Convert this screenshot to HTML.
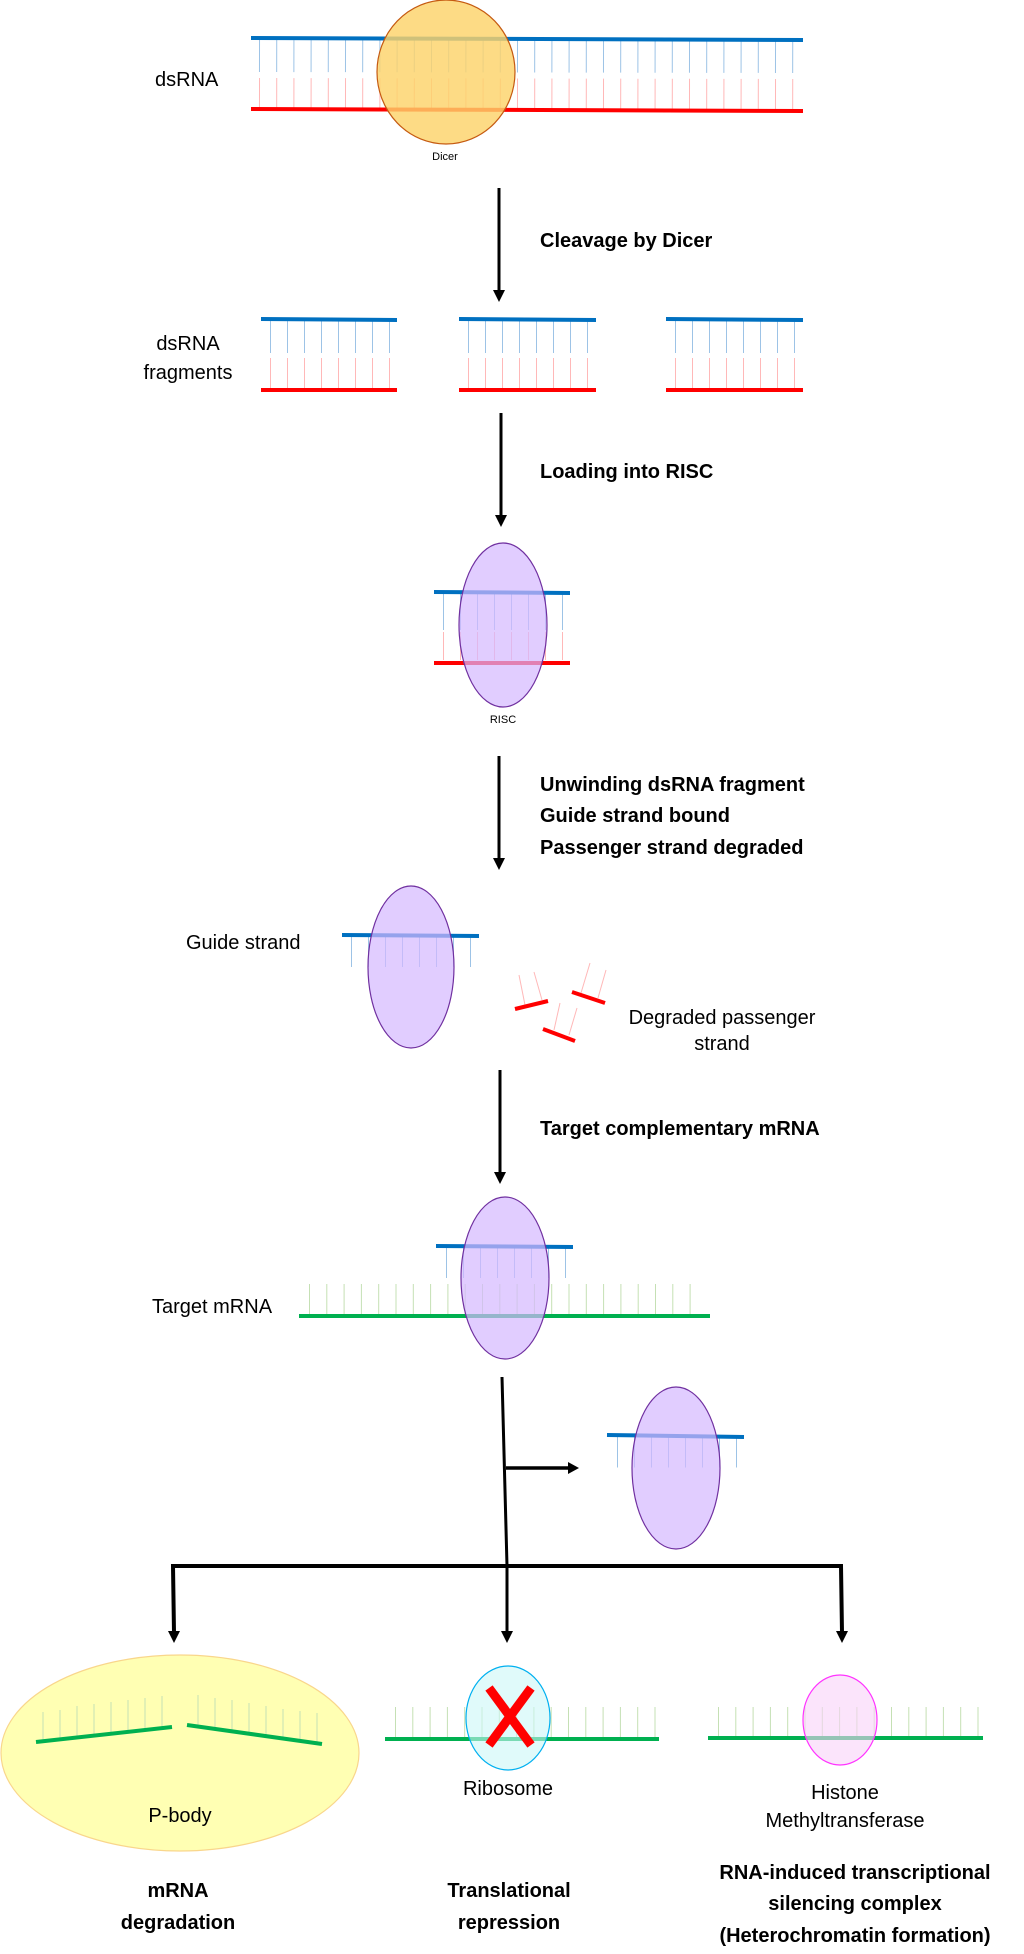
<!DOCTYPE html>
<html><head><meta charset="utf-8"><style>
html,body{margin:0;padding:0;background:#fff;}
svg{display:block;}
text{font-family:"Liberation Sans",sans-serif;fill:#000;}
.b{font-weight:bold;font-size:20px;}
.r{font-size:20px;}
</style></head><body>
<svg width="1024" height="1954" viewBox="0 0 1024 1954" xmlns="http://www.w3.org/2000/svg">
<!-- top dsRNA -->
<line x1="259" y1="56" x2="800" y2="57" stroke="#9dc3e6" stroke-width="32" stroke-dasharray="1 16.2"/>
<line x1="259" y1="93" x2="800" y2="94" stroke="#ffb8b8" stroke-width="30" stroke-dasharray="1 16.2"/>
<line x1="251" y1="38" x2="803" y2="40" stroke="#0070c0" stroke-width="4"/>
<line x1="251" y1="109" x2="803" y2="111" stroke="#ff0000" stroke-width="4"/>
<ellipse cx="446" cy="72" rx="69" ry="72" fill="#fdd36a" fill-opacity="0.82" stroke="#c55a11" stroke-width="1.2"/>
<text x="445" y="160" font-size="11" text-anchor="middle">Dicer</text>
<text x="155" y="86" class="r">dsRNA</text>
<!-- arrow 1 -->
<line x1="499" y1="188" x2="499" y2="292" stroke="#000" stroke-width="3"/>
<polygon points="493,290 505,290 499,302" fill="#000"/>
<text x="540" y="247" class="b">Cleavage by Dicer</text>
<!-- fragments -->
<g>
<line x1="270" y1="336.5" x2="392" y2="336.5" stroke="#9dc3e6" stroke-width="33" stroke-dasharray="1 16"/>
<line x1="270" y1="373" x2="392" y2="373" stroke="#ffb8b8" stroke-width="30" stroke-dasharray="1 16"/>
<line x1="468" y1="336.5" x2="590" y2="336.5" stroke="#9dc3e6" stroke-width="33" stroke-dasharray="1 16"/>
<line x1="468" y1="373" x2="590" y2="373" stroke="#ffb8b8" stroke-width="30" stroke-dasharray="1 16"/>
<line x1="675" y1="336.5" x2="797" y2="336.5" stroke="#9dc3e6" stroke-width="33" stroke-dasharray="1 16"/>
<line x1="675" y1="373" x2="797" y2="373" stroke="#ffb8b8" stroke-width="30" stroke-dasharray="1 16"/>
<line x1="261" y1="319" x2="397" y2="320" stroke="#0070c0" stroke-width="4"/>
<line x1="459" y1="319" x2="596" y2="320" stroke="#0070c0" stroke-width="4"/>
<line x1="666" y1="319" x2="803" y2="320" stroke="#0070c0" stroke-width="4"/>
<line x1="261" y1="390" x2="397" y2="390" stroke="#ff0000" stroke-width="4"/>
<line x1="459" y1="390" x2="596" y2="390" stroke="#ff0000" stroke-width="4"/>
<line x1="666" y1="390" x2="803" y2="390" stroke="#ff0000" stroke-width="4"/>
</g>
<text x="188" y="350" class="r" text-anchor="middle">dsRNA</text>
<text x="188" y="379" class="r" text-anchor="middle">fragments</text>
<!-- arrow 2 -->
<line x1="501" y1="413" x2="501" y2="517" stroke="#000" stroke-width="3"/>
<polygon points="495,515 507,515 501,527" fill="#000"/>
<text x="540" y="478" class="b">Loading into RISC</text>
<!-- RISC -->
<line x1="443" y1="612" x2="568" y2="612" stroke="#9dc3e6" stroke-width="36" stroke-dasharray="1 16"/>
<line x1="443" y1="646" x2="568" y2="646" stroke="#ffb8b8" stroke-width="28" stroke-dasharray="1 16"/>
<line x1="434" y1="592" x2="570" y2="593" stroke="#0070c0" stroke-width="4"/>
<line x1="434" y1="663" x2="570" y2="663" stroke="#ff0000" stroke-width="4"/>
<ellipse cx="503" cy="625" rx="44" ry="82" fill="#d4b8ff" fill-opacity="0.7" stroke="#7030a0" stroke-width="1.2"/>
<text x="503" y="723" font-size="11" text-anchor="middle">RISC</text>
<!-- arrow 3 -->
<line x1="499" y1="756" x2="499" y2="860" stroke="#000" stroke-width="3"/>
<polygon points="493,858 505,858 499,870" fill="#000"/>
<text x="540" y="791" class="b">Unwinding dsRNA fragment</text>
<text x="540" y="822" class="b">Guide strand bound</text>
<text x="540" y="854" class="b">Passenger strand degraded</text>
<!-- Guide -->
<line x1="351" y1="952" x2="477" y2="952" stroke="#9dc3e6" stroke-width="30" stroke-dasharray="1 16"/>
<line x1="342" y1="935" x2="479" y2="936" stroke="#0070c0" stroke-width="4"/>
<ellipse cx="411" cy="967" rx="43" ry="81" fill="#d4b8ff" fill-opacity="0.7" stroke="#7030a0" stroke-width="1.2"/>
<text x="186" y="949" class="r">Guide strand</text>
<!-- degraded -->
<g stroke="#ffb8b8" stroke-width="1">
<line x1="534" y1="972" x2="542" y2="1000"/><line x1="519" y1="975" x2="525" y2="1005"/>
<line x1="590" y1="963" x2="581" y2="993"/><line x1="606" y1="970" x2="598" y2="998"/>
<line x1="560" y1="1003" x2="554" y2="1030"/><line x1="577" y1="1008" x2="569" y2="1035"/>
</g>
<g stroke="#ff0000" stroke-width="4">
<line x1="515" y1="1009" x2="548" y2="1001"/>
<line x1="572" y1="992" x2="605" y2="1003"/>
<line x1="543" y1="1029" x2="575" y2="1041"/>
</g>
<text x="722" y="1024" class="r" text-anchor="middle">Degraded passenger</text>
<text x="722" y="1050" class="r" text-anchor="middle">strand</text>
<!-- arrow 4 -->
<line x1="500" y1="1070" x2="500" y2="1174" stroke="#000" stroke-width="3"/>
<polygon points="494,1172 506,1172 500,1184" fill="#000"/>
<text x="540" y="1135" class="b">Target complementary mRNA</text>
<!-- target -->
<line x1="309" y1="1299" x2="706" y2="1299" stroke="#c5e0b4" stroke-width="30" stroke-dasharray="1 16.3"/>
<line x1="299" y1="1316" x2="710" y2="1316" stroke="#00b050" stroke-width="4"/>
<line x1="446" y1="1263" x2="572" y2="1263" stroke="#9dc3e6" stroke-width="30" stroke-dasharray="1 16"/>
<line x1="436" y1="1246" x2="573" y2="1247" stroke="#0070c0" stroke-width="4"/>
<ellipse cx="505" cy="1278" rx="44" ry="81" fill="#d4b8ff" fill-opacity="0.7" stroke="#7030a0" stroke-width="1.2"/>
<text x="152" y="1313" class="r">Target mRNA</text>
<!-- fork -->
<polyline points="502,1377 507,1566 507,1633" fill="none" stroke="#000" stroke-width="3"/>
<line x1="506" y1="1468" x2="570" y2="1468" stroke="#000" stroke-width="3.5"/>
<polygon points="568,1462 579,1468 568,1474" fill="#000"/>
<line x1="617" y1="1452" x2="743" y2="1452" stroke="#9dc3e6" stroke-width="31" stroke-dasharray="1 16"/>
<line x1="607" y1="1435" x2="744" y2="1437" stroke="#0070c0" stroke-width="4"/>
<ellipse cx="676" cy="1468" rx="44" ry="81" fill="#d4b8ff" fill-opacity="0.7" stroke="#7030a0" stroke-width="1.2"/>
<polyline points="174,1633 173,1566 841,1566 842,1633" fill="none" stroke="#000" stroke-width="4"/>
<polygon points="168,1631 180,1631 174,1643" fill="#000"/>
<polygon points="501,1631 513,1631 507,1643" fill="#000"/>
<polygon points="836,1631 848,1631 842,1643" fill="#000"/>
<!-- P-body -->
<ellipse cx="180" cy="1753" rx="179" ry="98" fill="#ffffb3" stroke="#f9d68c" stroke-width="1.2"/>
<g stroke="#c5e0b4" stroke-width="1">
<line x1="43" y1="1740" x2="43" y2="1712"/><line x1="60" y1="1738" x2="60" y2="1710"/><line x1="77" y1="1736" x2="77" y2="1706"/><line x1="94" y1="1734" x2="94" y2="1704"/><line x1="111" y1="1732" x2="111" y2="1702"/><line x1="128" y1="1731" x2="128" y2="1700"/><line x1="145" y1="1729" x2="145" y2="1698"/><line x1="162" y1="1728" x2="162" y2="1696"/>
<line x1="198" y1="1727" x2="198" y2="1695"/><line x1="215" y1="1729" x2="215" y2="1698"/><line x1="232" y1="1731" x2="232" y2="1700"/><line x1="249" y1="1734" x2="249" y2="1703"/><line x1="266" y1="1736" x2="266" y2="1706"/><line x1="283" y1="1738" x2="283" y2="1709"/><line x1="300" y1="1740" x2="300" y2="1711"/><line x1="317" y1="1742" x2="317" y2="1713"/>
</g>
<line x1="36" y1="1742" x2="172" y2="1727" stroke="#00b050" stroke-width="4"/>
<line x1="187" y1="1725" x2="322" y2="1744" stroke="#00b050" stroke-width="4"/>
<text x="180" y="1822" class="r" text-anchor="middle">P-body</text>
<!-- ribosome -->
<line x1="395" y1="1722" x2="659" y2="1722" stroke="#c5e0b4" stroke-width="30" stroke-dasharray="1 16.3"/>
<line x1="385" y1="1739" x2="659" y2="1739" stroke="#00b050" stroke-width="4"/>
<ellipse cx="508" cy="1718" rx="42" ry="52" fill="#ccf7f7" fill-opacity="0.6" stroke="#00b0f0" stroke-width="1.2"/>
<g stroke="#ff0000" stroke-width="9" stroke-linecap="butt">
<line x1="489" y1="1688" x2="531" y2="1745"/>
<line x1="531" y1="1688" x2="489" y2="1745"/>
</g>
<text x="508" y="1795" class="r" text-anchor="middle">Ribosome</text>
<!-- histone -->
<line x1="718" y1="1722" x2="983" y2="1722" stroke="#c5e0b4" stroke-width="30" stroke-dasharray="1 16.3"/>
<line x1="708" y1="1738" x2="983" y2="1738" stroke="#00b050" stroke-width="4"/>
<ellipse cx="840" cy="1720" rx="37" ry="45" fill="#f9d2f9" fill-opacity="0.6" stroke="#ff33ff" stroke-width="1.2"/>
<text x="845" y="1799" class="r" text-anchor="middle">Histone</text>
<text x="845" y="1827" class="r" text-anchor="middle">Methyltransferase</text>
<!-- bottom labels -->
<text x="178" y="1897" class="b" text-anchor="middle">mRNA</text>
<text x="178" y="1929" class="b" text-anchor="middle">degradation</text>
<text x="509" y="1897" class="b" text-anchor="middle">Translational</text>
<text x="509" y="1929" class="b" text-anchor="middle">repression</text>
<text x="855" y="1879" class="b" text-anchor="middle">RNA-induced transcriptional</text>
<text x="855" y="1910" class="b" text-anchor="middle">silencing complex</text>
<text x="855" y="1942" class="b" text-anchor="middle">(Heterochromatin formation)</text>
</svg>
</body></html>
